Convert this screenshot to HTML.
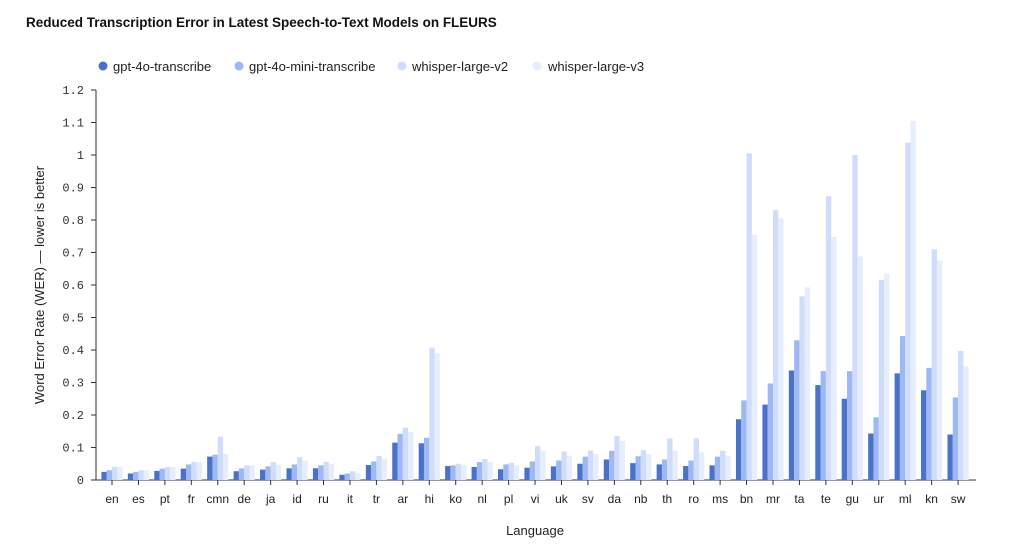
<!DOCTYPE html>
<html><head><meta charset="utf-8"><style>
body{margin:0;background:#fff;width:1024px;height:542px;overflow:hidden;font-family:"Liberation Sans",sans-serif}
</style></head><body>
<svg id="s" width="1024" height="542" xmlns="http://www.w3.org/2000/svg">
<text x="26" y="27" font-family="Liberation Sans" font-weight="bold" font-size="13.5" fill="#111">Reduced Transcription Error in Latest Speech-to-Text Models on FLEURS</text>
<g font-size="13" fill="#222" font-family="Liberation Sans">
<circle cx="103" cy="66" r="4.5" fill="#4a72c8"/><text x="113" y="71">gpt-4o-transcribe</text>
<circle cx="239" cy="66" r="4.5" fill="#9db8f2"/><text x="249" y="71">gpt-4o-mini-transcribe</text>
<circle cx="308" cy="66" r="0" /><circle cx="402" cy="66" r="4.5" fill="#cfdcfa"/><text x="412" y="71">whisper-large-v2</text>
<circle cx="537" cy="66" r="4.5" fill="#e6edfd"/><text x="548" y="71">whisper-large-v3</text>
</g>
<text transform="translate(44,285) rotate(-90)" text-anchor="middle" font-size="13" fill="#222">Word Error Rate (WER) — lower is better</text>
<text x="535" y="535" text-anchor="middle" font-size="13" fill="#222">Language</text>
<g id="g"></g>
</svg>
<script>
var d=[["en",.025,.03,.04,.04],["es",.02,.025,.03,.03],["pt",.028,.035,.04,.04],["fr",.035,.048,.056,.055],["cmn",.072,.078,.133,.08],["de",.027,.036,.045,.045],["ja",.032,.042,.055,.047],["id",.036,.048,.07,.06],["ru",.036,.045,.056,.05],["it",.016,.02,.027,.022],["tr",.046,.057,.074,.065],["ar",.115,.142,.161,.148],["hi",.113,.13,.407,.39],["ko",.043,.045,.05,.047],["nl",.04,.055,.065,.055],["pl",.033,.048,.053,.045],["vi",.038,.057,.104,.09],["uk",.042,.06,.088,.075],["sv",.05,.072,.09,.08],["da",.063,.09,.135,.12],["nb",.052,.073,.092,.08],["th",.048,.063,.128,.09],["ro",.043,.06,.128,.085],["ms",.045,.072,.09,.075],["bn",.187,.245,1.005,.755],["mr",.232,.297,.83,.805],["ta",.337,.43,.565,.593],["te",.292,.335,.873,.748],["gu",.25,.335,1.0,.688],["ur",.143,.193,.615,.635],["ml",.328,.443,1.038,1.105],["kn",.276,.345,.71,.675],["sw",.14,.254,.397,.35]];
var c=["#4a72c8","#9db8f2","#cfdcfa","#e6edfd"],h="",y0=480,k=325;
for(var i=0;i<=12;i++){var y=y0-i/10*k;h+='<line x1="91" x2="96" y1="'+y+'" y2="'+y+'" stroke="#333"/><text x="84" y="'+(y+4)+'" text-anchor="end" font-family="Liberation Mono" font-size="12" fill="#333">'+(i==0?"0":i==10?"1":(i/10).toFixed(1))+'</text>';}
h+='<line x1="96" x2="96" y1="'+(y0-1.2*k)+'" y2="'+y0+'" stroke="#333"/><line x1="96" x2="976" y1="'+y0+'" y2="'+y0+'" stroke="#333"/>';
d.forEach(function(r,j){var x=112+j*26.44;for(var m=0;m<4;m++){var v=r[m+1]*k;h+='<rect x="'+(x-10.6+m*5.3)+'" y="'+(y0-v)+'" width="5.3" height="'+v+'" fill="'+c[m]+'"/>';}
h+='<line x1="'+x+'" x2="'+x+'" y1="'+y0+'" y2="'+(y0+5)+'" stroke="#333"/><text x="'+x+'" y="'+(y0+23)+'" text-anchor="middle" font-size="12" fill="#222">'+r[0]+'</text>';});
document.getElementById("g").innerHTML=h;
</script>
</body></html>
